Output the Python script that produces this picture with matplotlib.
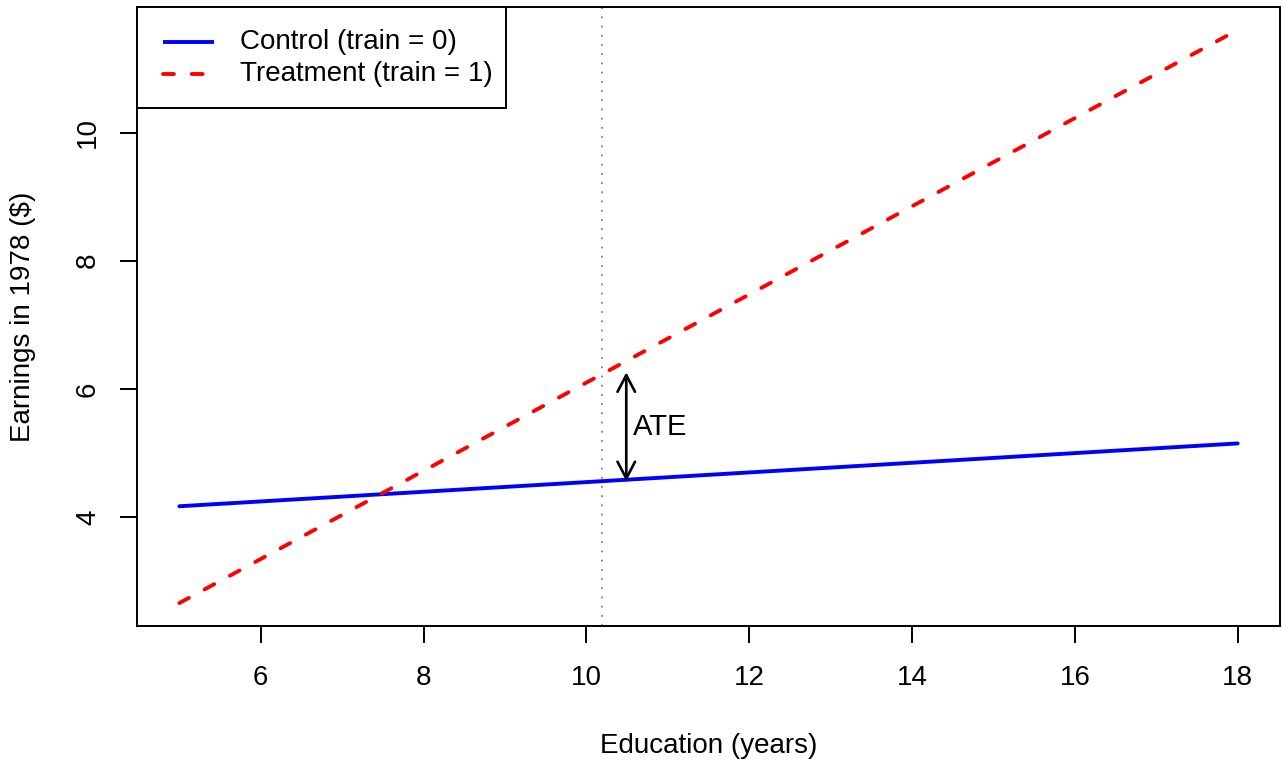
import matplotlib
matplotlib.use("Agg")
import matplotlib.pyplot as plt
from matplotlib.patches import Rectangle
from matplotlib.lines import Line2D

plt.rcParams['font.family'] = ['Liberation Sans', 'DejaVu Sans']

# Data
educ = [5, 18]
control = [4.17, 5.15]
treatment = [2.66, 11.60]
mean_educ = 10.19
ate_x = 10.49
ate_low, ate_high = 4.56, 6.26
xticks = [6, 8, 10, 12, 14, 16, 18]
yticks = [4, 6, 8, 10]
labels = ["Control (train = 0)", "Treatment (train = 1)"]

W, H = 1283, 761
fig = plt.figure(figsize=(W / 100, H / 100), dpi=100)
L, R, T, B = 137, 1280, 7, 626
ax = fig.add_axes([L / W, 1 - B / H, (R - L) / W, (B - T) / H])

FS = 20
lw = 2.8
dash = (0, (2.8, 4.6))
ax.plot(educ, control, color='blue', lw=lw, solid_capstyle='round', label=labels[0])
ax.plot(educ, treatment, color='red', lw=lw, linestyle=dash,
        dash_capstyle='round', label=labels[1])
ax.axvline(mean_educ, color='gray', lw=1.3, linestyle=(0, (1, 4.1)))
ax.annotate('', xy=(ate_x, ate_high), xytext=(ate_x, ate_low),
            arrowprops=dict(arrowstyle='<->,head_length=12,head_width=6.3',
                            mutation_scale=1, lw=1.9, color='black',
                            shrinkA=0, shrinkB=0))
ax.text(ate_x + 0.08, (ate_low + ate_high) / 2, 'ATE', fontsize=FS * 1.05,
        ha='left', va='center')

dx = (educ[-1] - educ[0]) * 0.04
ymin = min(min(control), min(treatment))
ymax = max(max(control), max(treatment))
dy = (ymax - ymin) * 0.04
ax.set_xlim(educ[0] - dx, educ[-1] + dx)
ax.set_ylim(ymin - dy, ymax + dy)

ax.set_xticks(xticks)
ax.set_yticks(yticks)
ax.set_xticklabels([str(v) for v in xticks])
ax.set_yticklabels([str(v) for v in yticks], rotation=90, va='center')
ax.tick_params(direction='out', length=12, width=1.4, labelsize=FS)
ax.tick_params(axis='x', pad=16)
ax.tick_params(axis='y', pad=14)
for s in ax.spines.values():
    s.set_linewidth(1.4)

fig.text((L + R) / 2 / W, 1 - 746 / H, 'Education (years)', fontsize=FS,
         ha='center', va='center')
fig.text(23 / W, 1 - (T + B) / 2 / H, 'Earnings in 1978 ($)', fontsize=FS,
         ha='center', va='center', rotation=90)

# Legend drawn R-style in figure pixel coordinates
def fx(px):
    return px / W

def fy(py):
    return 1 - py / H

box = Rectangle((fx(L), fy(108)), fx(506) - fx(L), fy(T) - fy(108),
                transform=fig.transFigure, facecolor='white', edgecolor='black',
                lw=1.4, zorder=5)
fig.patches.append(box)
styles = [dict(color='blue', lw=lw, solid_capstyle='butt'),
          dict(color='red', lw=lw, linestyle=dash, dash_capstyle='round')]
for row_y, lab, st in zip([42, 74], labels, styles):
    fig.lines.append(Line2D([fx(163), fx(214)], [fy(row_y), fy(row_y)],
                            transform=fig.transFigure, zorder=6, **st))
    fig.text(fx(240), fy(row_y), lab, fontsize=FS, ha='left', va='center',
             zorder=6)

fig.savefig('out.png', dpi=100)
